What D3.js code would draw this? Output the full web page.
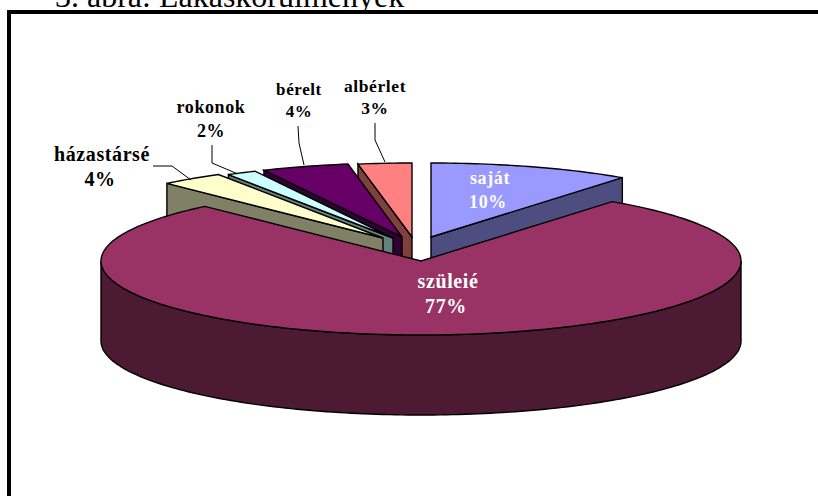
<!DOCTYPE html>
<html><head><meta charset="utf-8">
<script src="https://cdn.jsdelivr.net/npm/d3@7/dist/d3.min.js"></script>
<style>html,body{margin:0;padding:0;background:#fff;overflow:hidden}svg{display:block}</style>
</head><body><svg id="c" width="818" height="496"></svg>
<script>
const title = "3. ábra: Lakáskörülmények";
const categories = ["saját","szüleié","házastársé","rokonok","bérelt","albérlet"];
const shares = [10.2,78.0,3.2,1.5,4.4,2.7];
const percentLabels = ["10%","77%","4%","2%","4%","3%"];
const topColors = ["#9999FF","#993366","#FFFFCC","#CCFFFF","#660066","#FF8080"];
const explodeDx = [10,0,-38,-28,-19,-9];
const explodeDy = [-24,0,-23,-23,-24,-24];
const labelX = [490,448,102,211,299,375];
const labelY = [184,288,161,113,95,92];
const labelSize = [18,20,20,18,17,17.5];
const labelGap = [24,25,25,24,22,22];
const labelWhite = [true,true,false,false,false,false];
const leaders = [null,null,
  [[153,166],[172,166],[191,180]],
  [[212,145],[212,163],[238,174]],
  [[298,126],[299,143],[304,165]],
  [[375,123],[375,140],[385,162]]];
const drawOrder = [5,4,3,2,0,1];

const depth = 80;
const svg = d3.select("#c");
const x = d3.scaleLinear().domain([-1,1]).range([101,741]);
const y = d3.scaleLinear().domain([-1,1]).range([187,335]);
const pie = d3.pie().sort(null).value(d=>d);
const arcs = pie(shares);
const line = d3.line();
const rim = (a0,a1,dx,dy)=>{
  const n = Math.max(2,Math.ceil(Math.abs(a1-a0)/0.02));
  return d3.range(n+1).map(i=>{const a=a0+(a1-a0)*i/n;
    return [x(Math.sin(a))+dx,y(-Math.cos(a))+dy];});
};
const side = c=>{const o=d3.rgb(c);return d3.rgb(o.r*.5,o.g*.5,o.b*.5).formatHex();};
const g = svg.append("g").attr("stroke","#000").attr("stroke-width",1.4).attr("stroke-linejoin","miter");

drawOrder.forEach(i=>{
  const a = arcs[i], dx=explodeDx[i], dy=explodeDy[i];
  const apex=[x(0)+dx,y(0)+dy];
  if(i===1){
    const front = rim(Math.PI/2,Math.PI*1.5,0,0);
    const back = front.map(p=>[p[0],p[1]+depth]).reverse();
    g.append("path").attr("d",line(front.concat(back))+"Z").attr("fill",side(topColors[i]));
  } else {
    const edge = a.startAngle<Math.PI ? a.endAngle : a.startAngle;
    const p = rim(edge,edge,dx,dy)[0];
    g.append("path").attr("d",line([apex,p,[p[0],p[1]+depth],[apex[0],apex[1]+depth]])+"Z")
      .attr("fill",side(topColors[i]));
  }
  g.append("path").attr("d",line([apex].concat(rim(a.startAngle,a.endAngle,dx,dy)))+"Z")
    .attr("fill",topColors[i]);
});

const lead = svg.append("g").attr("fill","none").attr("stroke","#000").attr("stroke-width",1);
leaders.forEach(l=>{ if(l) lead.append("path").attr("d",line(l)); });

const font='"Liberation Serif","Times New Roman",serif';
const labels = svg.append("g").attr("font-family",font).attr("font-weight","bold")
  .attr("text-anchor","middle").attr("letter-spacing",0.6);
categories.forEach((c,i)=>{
  const t=labels.append("g").attr("fill",labelWhite[i]?"#fff":"#000").attr("font-size",labelSize[i]);
  t.append("text").attr("x",labelX[i]).attr("y",labelY[i]).text(c);
  t.append("text").attr("x",labelX[i]-(i<3?2:0)).attr("y",labelY[i]+labelGap[i]).text(percentLabels[i]);
});

svg.append("text").attr("x",55).attr("y",7).attr("font-family",font).attr("font-size",32).attr("fill","#000").text(title);
svg.append("rect").attr("x",7).attr("y",10).attr("width",811).attr("height",4).attr("fill","#000");
svg.append("rect").attr("x",7).attr("y",10).attr("width",4).attr("height",486).attr("fill","#000");
</script></body></html>
